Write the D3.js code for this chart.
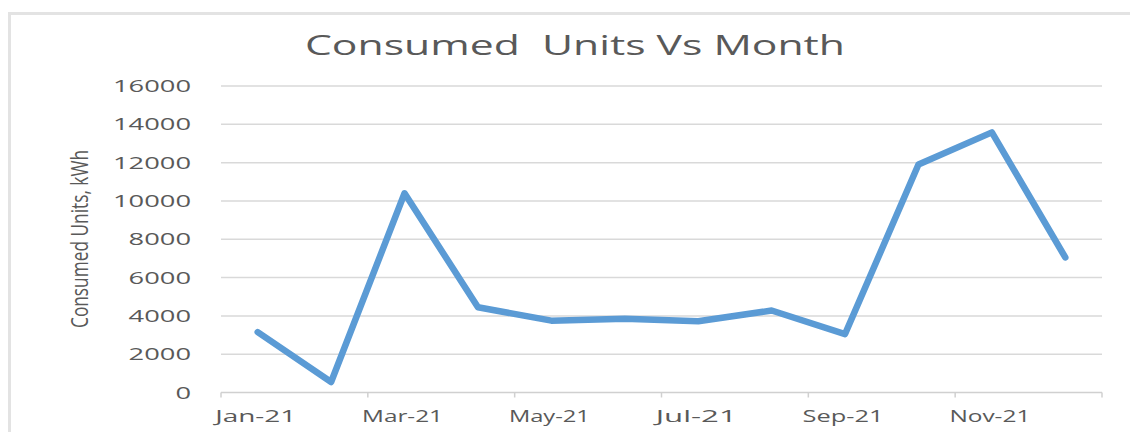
<!DOCTYPE html>
<html>
<head>
<meta charset="utf-8">
<script src="https://cdn.jsdelivr.net/npm/d3@7"></script>
<style>
	body { margin: 0; background: #fff; }
	text { font-family: "Open Sans", sans-serif; fill: #595959; }
</style>
</head>
<body>
<svg id="chart" width="1130" height="432"></svg>
<script>
var months = ["Jan-21","Feb-21","Mar-21","Apr-21","May-21","Jun-21","Jul-21","Aug-21","Sep-21","Oct-21","Nov-21","Dec-21"];
var units = [3150, 550, 10400, 4450, 3750, 3850, 3720, 4280, 3050, 11900, 13580, 7050];
var yTicks = [0, 2000, 4000, 6000, 8000, 10000, 12000, 14000, 16000];
var xLabels = ["Jan-21","Mar-21","May-21","Jul-21","Sep-21","Nov-21"];

var svg = d3.select("#chart");

// chart frame
svg.append("path")
	.attr("d", "M9.5,432 V13.5 H1130")
	.attr("fill", "none")
	.attr("stroke", "#e3e3e3")
	.attr("stroke-width", 3);

var x = d3.scaleBand().domain(months).range([221, 1102]).padding(0);
var y = d3.scaleLinear().domain([0, 16000]).range([392.5, 86]);

// gridlines
svg.append("g").selectAll("line")
	.data(yTicks.filter(function(d){ return d > 0; }))
	.enter().append("line")
	.attr("x1", 221).attr("x2", 1102)
	.attr("y1", function(d){ return y(d); })
	.attr("y2", function(d){ return y(d); })
	.attr("stroke", "#d9d9d9")
	.attr("stroke-width", 1.5);

// x axis line + ticks
svg.append("line")
	.attr("x1", 221).attr("x2", 1102)
	.attr("y1", y(0)).attr("y2", y(0))
	.attr("stroke", "#d0d0d0")
	.attr("stroke-width", 1.5);

var tickPos = xLabels.map(function(m){ return x(m); }).concat([x.range()[1]]);
svg.append("g").selectAll("line")
	.data(tickPos)
	.enter().append("line")
	.attr("x1", function(d){ return d; })
	.attr("x2", function(d){ return d; })
	.attr("y1", y(0)).attr("y2", y(0) + 5)
	.attr("stroke", "#d0d0d0")
	.attr("stroke-width", 1.5);

// x labels
svg.append("g").selectAll("text")
	.data(xLabels)
	.enter().append("text")
	.attr("x", function(d){ return x(d) + x.bandwidth() / 2 - 2; })
	.attr("y", 422)
	.attr("text-anchor", "middle")
	.attr("font-size", 16)
	.attr("textLength", function(d){ return d.length * 13.5; })
	.attr("lengthAdjust", "spacingAndGlyphs")
	.text(function(d){ return d; });

// y labels
svg.append("g").selectAll("text")
	.data(yTicks)
	.enter().append("text")
	.attr("x", 191)
	.attr("y", function(d){ return y(d) + 6; })
	.attr("text-anchor", "end")
	.attr("font-size", 16)
	.attr("textLength", function(d){ return String(d).length * 15.6; })
	.attr("lengthAdjust", "spacingAndGlyphs")
	.text(function(d){ return d; });

// title (keeps the double space)
svg.append("text")
	.attr("x", 305)
	.attr("y", 55)
	.attr("font-size", 28)
	.style("white-space", "pre")
	.attr("textLength", 540)
	.attr("lengthAdjust", "spacingAndGlyphs")
	.text("Consumed  Units Vs Month");

// y axis title
svg.append("text")
	.attr("transform", "translate(88,239) rotate(-90) scale(1,1.5)")
	.attr("text-anchor", "middle")
	.attr("font-size", 16)
	.attr("font-family", "'Liberation Sans Narrow', sans-serif")
	.attr("textLength", 178)
	.attr("lengthAdjust", "spacingAndGlyphs")
	.text("Consumed Units, kWh");

// line
var line = d3.line()
	.x(function(d, i){ return x(months[i]) + x.bandwidth() / 2; })
	.y(function(d){ return y(d); });

svg.append("path")
	.datum(units)
	.attr("d", line)
	.attr("fill", "none")
	.attr("stroke", "#5b9bd5")
	.attr("stroke-width", 6.5)
	.attr("stroke-linejoin", "round")
	.attr("stroke-linecap", "round");
</script>
</body>
</html>
